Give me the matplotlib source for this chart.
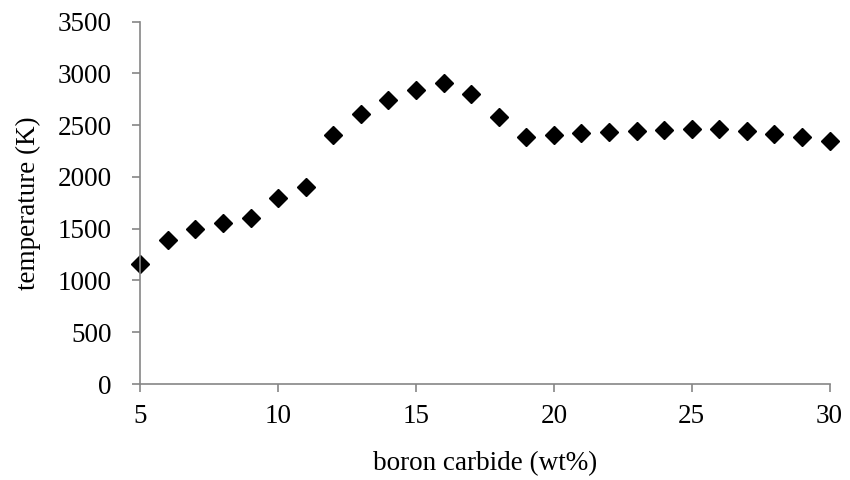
import matplotlib
matplotlib.use("Agg")
import matplotlib.pyplot as plt

# 数据：碳化硼含量 vs 温度
boron_wt = [5, 6, 7, 8, 9, 10, 11, 12, 13, 14, 15, 16, 17, 18,
            19, 20, 21, 22, 23, 24, 25, 26, 27, 28, 29, 30]
temperature = [1160, 1395, 1500, 1555, 1605, 1792, 1905, 2405, 2605, 2745,
               2840, 2905, 2797, 2582, 2384, 2404, 2420, 2436, 2447, 2457,
               2465, 2465, 2445, 2416, 2384, 2350]

plt.rcParams["font.family"] = ["Liberation Serif", "DejaVu Serif"]

fig = plt.figure(figsize=(8.5, 4.8), dpi=100)
ax = fig.add_axes([0.165, 0.2, 0.811, 0.755])

ax.plot(boron_wt, temperature, "D", color="black", markersize=9.5,
        linestyle="none", clip_on=False)

ax.set_xlim(5, 30)
ax.set_ylim(0, 3500)
ax.set_xticks(range(5, 31, 5))
ax.set_yticks(range(0, 3501, 500))

ax.set_xlabel("boron carbide (wt%)", fontsize=19.5, labelpad=16)
ax.set_ylabel("temperature (K)", fontsize=19.5, labelpad=12)

for side in ["top", "right"]:
    ax.spines[side].set_visible(False)
for side in ["left", "bottom"]:
    ax.spines[side].set_color("#868686")
    ax.spines[side].set_linewidth(1.2)

ax.tick_params(axis="both", labelsize=19.5, color="#868686", length=5.5,
               width=1.2, direction="out")
ax.tick_params(axis="x", pad=9)
ax.tick_params(axis="y", pad=15)

plt.savefig("out.png", dpi=100)
